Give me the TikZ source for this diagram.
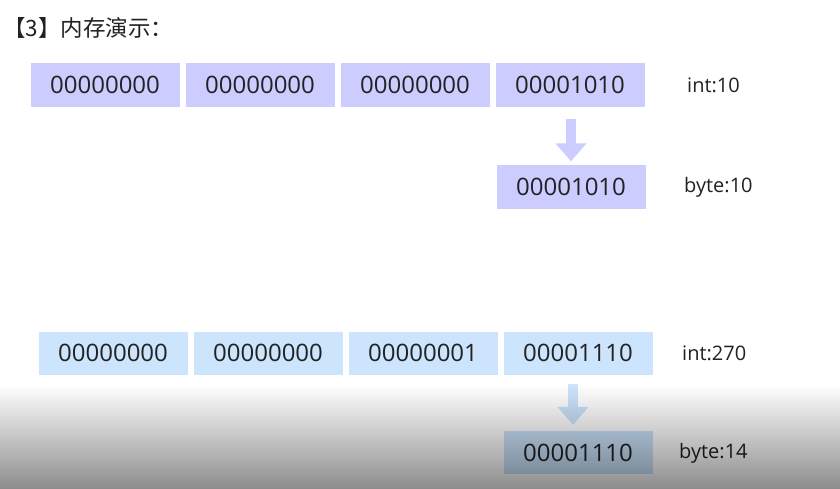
\documentclass[tikz,border=0pt]{standalone}
\usepackage{fontspec}
\setmainfont{Open Sans}
\newfontfamily\cjk{Noto Sans CJK SC}
\usetikzlibrary{arrows.meta,fadings}
\definecolor{intcol}{RGB}{204,204,255}
\definecolor{intcolb}{RGB}{204,228,252}
\definecolor{txt}{RGB}{34,34,34}
\tikzfading[name=dimdown, top color=transparent!100, bottom color=transparent!0]
\tikzset{
  bits/.style={minimum width=149pt, minimum height=44pt, inner sep=0pt, text=txt, font=\fontsize{24}{28}\selectfont},
  tag/.style={anchor=west, inner sep=0pt, text=txt, font=\fontsize{20}{24}\selectfont},
  cast/.style={line width=10pt, -{Triangle[length=18pt, width=30pt]}},
}
\begin{document}
\begin{tikzpicture}[x=1pt, y=-1pt]
    \useasboundingbox (0,0) rectangle (840,489);
    \fill[white] (0,0) rectangle (840,489);
    \node[anchor=west, inner sep=0pt, text=txt, font=\cjk\fontsize{22.5}{26}\selectfont] (title) at (3,28) {【3】内存演示：};
    % int:10 -> byte:10
    \foreach \b [count=\i from 0] in {00000000,00000000,00000000,00001010}
        \node[bits, fill=intcol] (a\i) at (105+155*\i, 85) {\b};
    \node[tag] (aint) at (687,85) {int:10};
    \node[bits, fill=intcol, minimum height=43pt] (abyte) at (571,187) {00001010};
    \node[tag] (abytetag) at (684,187) {byte:10};
    \draw[cast, intcol, shorten <=12pt, shorten >=4pt] (abyte.north |- a3.south) -- (abyte.north);
    % int:270 -> byte:14
    \foreach \b [count=\i from 0] in {00000000,00000000,00000001,00001110}
        \node[bits, fill=intcolb, minimum height=43pt] (b\i) at (113+155*\i, 353) {\b};
    \node[tag] (bint) at (682,353) {int:270};
    \node[bits, fill=intcolb, minimum height=43pt] (bbyte) at (578,452.5) {00001110};
    \node[tag] (bbytetag) at (679,453) {byte:14};
    \draw[cast, intcolb, shorten <=9pt, shorten >=6pt] ([xshift=-5pt]b3.south) -- ([xshift=-5pt]bbyte.north);
    % dark band at the bottom
    \fill[black, opacity=0.45, path fading=dimdown] (0,385) rectangle (840,489);
\end{tikzpicture}
\end{document}
